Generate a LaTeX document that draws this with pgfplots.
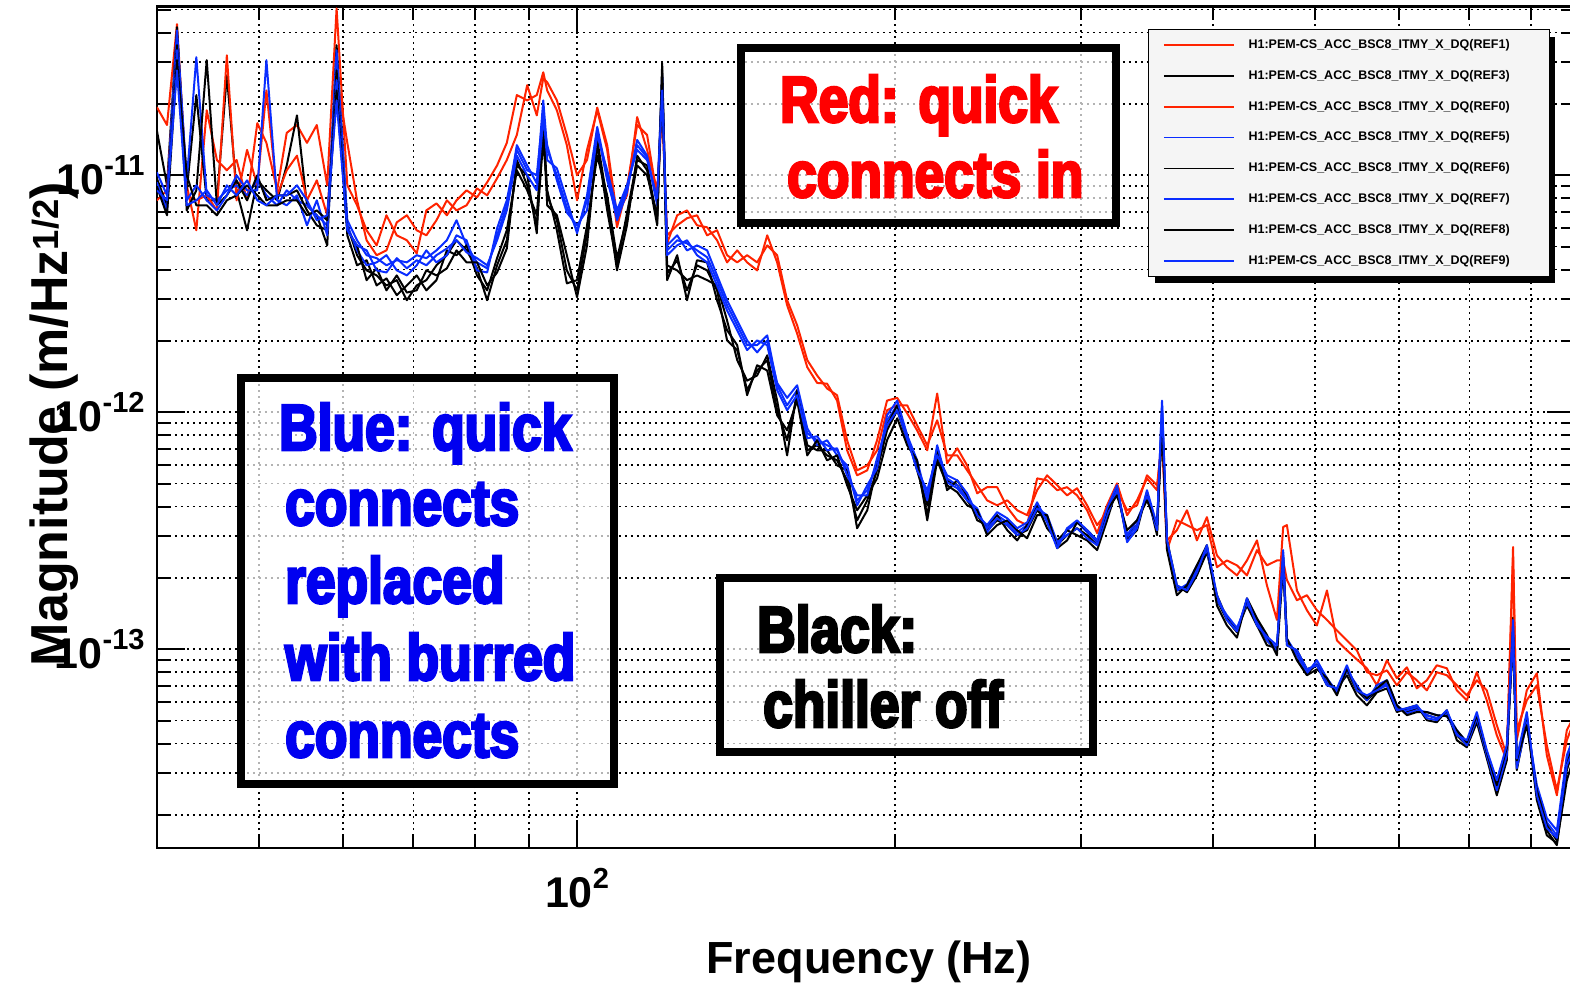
\documentclass[border=0pt]{standalone}
\usepackage{fontspec}
\setmainfont{Liberation Sans}
\newfontfamily\notefont{Liberation Sans Bold}[FakeStretch=0.82, FakeBold=4]
\usepackage{pgfplots}
\usepackage{pgfplotstable}
\pgfplotsset{compat=1.18}

\definecolor{trred}{RGB}{255,35,0}
\definecolor{trblue}{RGB}{10,45,255}
\definecolor{notered}{RGB}{255,0,0}
\definecolor{noteblue}{RGB}{0,0,240}

% power-of-ten tick label
\newcommand\decade[1]{\fontsize{43}{43}\selectfont\bfseries 10\raisebox{19pt}{\fontsize{29}{29}\selectfont #1}}
% legend entry, padded to the width of the legend box
\newcommand\refentry[1]{\makebox[286pt][l]{H1:PEM-CS\_ACC\_BSC8\_ITMY\_X\_DQ(#1)}}

% ASD of H1:PEM-CS_ACC_BSC8_ITMY_X_DQ, in units of 1e-13 m/Hz^(1/2)
\pgfplotstableread{
f r1 r0 k3 k6 k8 b5 b7 b9
40.0 194 78.4 155 97.1 89.8 103 93.4 86.4
40.9 163 86.4 90.7 74.7 67.8 82.3 71.1 78.4
41.8 434 371 422 354 306 409 337 277
42.7 90.7 82.3 86.4 71.1 100 95.2 78.4 74.7
43.6 58.6 78.4 218 86.4 74.7 315 90.7 78.4
44.6 188 82.3 78.4 306 74.7 82.3 78.4 86.4
45.6 116 71.1 78.4 74.7 67.8 78.4 71.1 74.7
46.6 105 321 264 82.3 78.4 86.4 82.3 90.7
47.6 116 78.4 86.4 95.2 82.3 90.7 100 82.3
48.7 78.4 128 58.6 78.4 90.7 82.3 86.4 95.2
49.8 166 90.7 95.2 100 82.3 95.2 86.4 78.4
50.8 137 228 86.4 78.4 74.7 82.3 306 74.7
52.0 86.4 82.3 78.4 82.3 74.7 74.7 78.4 82.3
53.1 151 105 110 82.3 78.4 86.4 74.7 82.3
54.3 163 121 179 86.4 78.4 78.4 82.3 90.7
55.5 137 78.4 74.7 71.1 67.8 74.7 61.5 78.4
56.7 163 95.2 67.8 61.5 71.1 67.8 78.4 64.6
58.0 90.7 67.8 50.6 58.6 64.6 61.5 55.8 67.8
59.2 506 264 354 277 228 337 252 207
60.6 90.7 137 61.5 55.8 58.6 64.6 61.5 58.6
61.9 74.7 78.4 46.0 41.7 50.6 53.2 48.2 50.6
63.2 58.6 53.2 39.7 43.8 36.1 46.0 41.7 48.2
64.6 50.6 46.0 37.8 34.3 40.5 44.7 42.9 39.7
66.0 67.8 48.2 34.3 36.7 32.7 41.7 46.0 38.9
67.5 55.8 63.3 36.1 31.2 37.8 43.8 39.7 44.7
69.0 53.2 67.8 29.7 34.3 32.0 42.9 37.8 40.5
70.5 46.8 58.6 34.3 37.8 32.7 46.0 41.7 43.8
72.0 71.1 55.8 36.1 32.7 39.7 44.7 48.2 41.7
73.6 76.1 64.6 41.7 36.1 37.8 48.2 42.9 46.0
75.3 67.8 78.4 46.0 48.2 40.5 53.2 46.0 49.1
76.9 78.4 71.1 53.2 46.0 48.2 64.6 55.8 53.2
78.6 86.4 74.7 48.2 50.6 42.9 50.6 53.2 47.3
80.4 80.7 88.0 40.5 37.8 42.9 42.9 39.7 44.7
82.2 93.4 82.3 29.7 32.7 34.3 40.5 38.9 41.7
84.0 110 97.1 41.7 44.7 38.9 55.8 59.7 53.2
85.8 137 116 53.2 58.6 49.1 74.7 78.4 71.1
87.7 218 148 110 105 116 134 128 121
89.7 207 240 100 86.4 90.7 110 105 100
91.6 218 179 56.9 67.8 61.5 92.5 100 86.4
92.9 272 257 183 163 141 207 188 171
93.7 228 247 82.3 74.7 86.4 128 116 134
95.7 188 207 64.6 67.8 58.6 100 107 95.2
97.8 134 148 39.7 46.0 35.0 73.3 78.4 69.7
100.0 78.4 100 32.7 30.6 36.1 58.6 56.9 61.5
102.2 128 116 56.9 50.6 61.5 78.4 82.3 71.1
104.5 188 193 134 141 121 155 160 148
106.8 128 134 71.1 78.4 82.3 95.2 100 105
109.1 60.3 67.8 41.7 39.7 44.7 67.8 64.6 71.1
111.5 89.0 82.3 69.1 61.5 65.9 89.0 84.7 90.7
114.0 163 176 116 121 110 134 141 128
116.5 148 128 110 105 100 119 121 116
119.1 80.7 86.4 64.6 61.5 67.8 78.4 74.7 79.9
120.4 193 207 297 277 252 264 240 228
121.7 51.6 55.8 38.5 41.7 36.1 48.2 50.6 46.0
124.4 67.8 61.5 43.8 39.7 46.0 53.2 55.8 50.6
127.1 71.1 65.9 32.7 36.1 29.7 51.6 48.2 53.2
129.9 61.5 67.8 41.7 37.8 43.8 48.2 50.6 46.0
132.8 60.3 55.8 39.7 36.1 42.9 45.1 48.2 42.9
135.7 53.2 58.6 32.7 34.3 29.7 36.1 37.8 34.3
138.7 42.9 46.0 20.1 24.4 22.2 28.3 29.7 26.9
141.8 48.2 42.9 18.3 16.6 19.2 23.3 24.4 22.2
144.9 42.9 46.0 12.4 13.6 11.8 19.2 20.1 18.3
148.1 39.7 42.9 15.0 14.3 15.8 19.2 17.9 20.1
151.4 55.8 50.6 16.6 17.4 15.0 21.1 20.1 19.2
154.7 42.9 46.0 10.2 11.2 9.71 13.0 13.3 12.4
158.1 28.3 29.7 7.62 6.58 8.39 10.7 11.5 10.2
161.6 21.5 23.3 11.8 12.4 11.2 12.4 13.0 11.8
165.2 15.5 16.6 6.91 7.26 6.58 8.15 8.56 7.77
168.8 13.3 14.3 7.26 6.91 7.62 7.62 7.26 7.92
172.5 13.2 12.6 6.58 6.91 6.27 7.26 7.62 6.91
176.3 11.2 11.8 6.27 5.97 6.58 6.91 6.58 7.05
180.2 6.91 7.62 5.16 5.69 4.92 5.69 5.97 5.42
184.2 5.42 5.69 3.50 3.24 3.86 4.25 4.05 4.46
188.3 5.69 5.97 4.25 3.86 4.46 4.69 4.92 4.46
192.4 7.62 6.91 5.69 5.97 5.26 6.15 5.80 6.40
196.6 11.2 10.2 8.39 8.81 7.62 9.25 9.71 8.81
201.0 11.5 10.7 10.2 10.7 9.43 10.7 11.2 10.2
205.4 9.90 10.7 7.62 8.00 7.26 7.62 8.00 7.77
209.9 8.39 8.81 5.97 5.69 6.27 5.97 6.27 5.69
214.6 6.91 7.26 3.68 4.05 3.50 4.46 4.25 4.69
219.3 12.0 9.25 6.58 7.05 6.27 6.91 7.26 6.58
224.1 6.09 6.58 5.16 4.69 4.92 5.26 5.06 5.42
229.1 7.05 6.58 4.92 5.16 4.60 4.92 4.78 5.16
234.1 5.97 5.69 4.25 4.46 4.05 4.37 4.25 4.55
239.3 4.55 4.92 3.68 3.50 3.86 3.79 3.93 3.68
244.5 4.83 4.25 3.18 3.34 3.03 3.24 3.12 3.34
249.9 4.83 4.05 3.50 3.68 3.34 3.68 3.57 3.79
255.5 3.97 4.25 3.34 3.18 3.50 3.43 3.34 3.57
261.1 3.50 3.86 3.03 2.88 3.18 3.12 3.03 3.24
266.8 3.34 3.68 3.18 3.34 2.94 3.34 3.24 3.43
272.7 5.26 4.69 3.86 4.05 3.68 4.05 3.93 4.17
278.7 5.16 5.42 3.50 3.24 3.68 3.57 3.68 3.43
284.9 4.69 4.92 2.75 2.88 2.67 2.75 2.83 2.67
291.1 4.83 4.46 3.03 3.18 2.88 3.18 3.03 3.24
297.5 4.46 4.78 3.24 3.03 3.43 3.43 3.24 3.50
304.1 3.86 4.05 3.03 2.88 3.18 3.12 2.94 3.18
310.8 3.09 3.34 2.75 2.62 2.88 2.83 2.75 2.88
317.6 4.05 3.79 3.68 3.50 3.86 3.79 3.68 3.93
324.6 5.01 4.69 4.69 4.78 4.46 4.83 4.69 4.92
331.8 3.68 3.86 3.03 2.88 3.18 2.94 3.03 2.83
339.1 4.25 4.05 3.34 3.18 3.50 3.34 3.50 3.24
346.5 5.26 5.42 4.46 4.60 4.25 4.55 4.42 4.69
354.2 4.69 4.92 3.18 3.03 3.34 3.24 3.18 3.34
358.1 8.15 7.62 9.90 9.25 8.81 11.2 10.2 10.7
362.0 2.88 2.62 2.75 2.88 2.62 2.83 2.75 2.88
369.9 3.18 3.50 1.77 1.86 1.69 1.79 1.77 1.86
378.1 3.86 3.34 1.79 1.74 1.86 1.83 1.88 1.77
386.4 2.88 3.18 2.15 2.05 2.26 2.19 2.26 2.11
394.9 3.61 3.34 2.67 2.57 2.75 2.70 2.62 2.75
403.6 2.49 2.22 1.61 1.69 1.53 1.64 1.61 1.69
412.5 2.22 2.37 1.33 1.35 1.26 1.35 1.39 1.33
421.6 2.05 2.26 1.18 1.20 1.12 1.20 1.23 1.19
430.9 2.37 2.05 1.61 1.53 1.64 1.61 1.56 1.64
440.4 2.88 2.62 1.30 1.26 1.35 1.30 1.33 1.26
450.1 1.86 2.26 1.09 1.04 1.15 1.11 1.09 1.13
460.0 1.33 2.37 0.990 1.01 0.943 1.01 0.990 1.04
466.3 3.28 2.37 2.49 2.37 2.26 2.62 2.49 2.37
470.1 3.34 1.96 1.09 1.04 1.11 1.09 1.11 1.04
480.5 1.77 1.61 0.943 0.990 0.898 0.960 0.943 0.990
491.1 1.46 1.69 0.790 0.823 0.777 0.815 0.792 0.823
501.9 1.26 1.46 0.864 0.856 0.823 0.864 0.898 0.856
513.0 1.77 1.33 0.740 0.705 0.755 0.726 0.755 0.705
524.3 1.09 1.20 0.671 0.684 0.639 0.671 0.658 0.684
535.8 0.990 1.09 0.815 0.777 0.831 0.831 0.815 0.856
547.6 0.906 0.990 0.671 0.639 0.684 0.684 0.705 0.671
559.7 0.831 0.800 0.609 0.580 0.621 0.621 0.609 0.639
572.0 0.705 0.777 0.671 0.658 0.684 0.684 0.705 0.671
584.7 0.898 0.815 0.718 0.684 0.740 0.718 0.740 0.705
597.5 0.755 0.705 0.564 0.543 0.580 0.564 0.580 0.553
610.7 0.839 0.800 0.543 0.564 0.527 0.553 0.537 0.564
624.1 0.684 0.740 0.564 0.580 0.543 0.569 0.553 0.580
637.9 0.740 0.671 0.527 0.502 0.543 0.527 0.543 0.512
651.9 0.856 0.800 0.512 0.492 0.527 0.512 0.527 0.502
666.3 0.831 0.777 0.537 0.553 0.522 0.537 0.522 0.553
681.0 0.671 0.705 0.434 0.413 0.455 0.455 0.443 0.434
696.0 0.609 0.639 0.393 0.386 0.405 0.405 0.393 0.413
711.3 0.800 0.740 0.512 0.492 0.527 0.527 0.512 0.543
727.0 0.609 0.671 0.357 0.347 0.368 0.368 0.357 0.375
743.0 0.434 0.478 0.254 0.242 0.267 0.267 0.254 0.280
759.4 0.340 0.357 0.368 0.340 0.383 0.375 0.357 0.393
769.8 2.70 2.37 1.36 1.20 1.09 1.33 1.26 1.15
776.1 0.413 0.455 0.324 0.309 0.340 0.333 0.315 0.346
793.2 0.671 0.609 0.527 0.502 0.478 0.512 0.492 0.543
810.7 0.792 0.705 0.242 0.231 0.254 0.254 0.267 0.242
828.6 0.357 0.393 0.172 0.164 0.181 0.186 0.194 0.176
846.9 0.242 0.254 0.149 0.152 0.156 0.164 0.172 0.160
865.5 0.455 0.413 0.309 0.280 0.324 0.340 0.357 0.324
880.0 0.527 0.502 0.393 0.357 0.413 0.413 0.434 0.383
}\spectra

\begin{document}
\begin{tikzpicture}
\begin{axis}[
  scale only axis,
  width=1417.6pt, height=841.6pt,
  xmode=log, ymode=log,
  xmin=40, xmax=880, ymin=0.145, ymax=516,
  axis line style={line width=2.5pt},
  xtick={100}, xticklabels={\decade{2}},
  ytick={1,10,100}, yticklabels={\decade{-13},\decade{-12},\decade{-11}},
  minor xtick={50,60,70,80,90,200,300,400,500,600,700,800},
  minor ytick={0.2,0.3,0.4,0.5,0.6,0.7,0.8,0.9,2,3,4,5,6,7,8,9,20,30,40,50,60,70,80,90,200,300,400,500},
  xtick pos=both, ytick pos=both,
  tick align=inside,
  major tick length=28pt, minor tick length=14pt,
  tick style={black, line width=2pt},
  grid=both,
  major grid style={black, line width=1.6pt, dash pattern=on 1.8pt off 4.2pt},
  minor grid style={black, line width=1.6pt, dash pattern=on 1.8pt off 4.2pt},
  xticklabel style={anchor=north, inner sep=0pt, yshift=-20pt},
  yticklabel style={anchor=east, inner sep=0pt, xshift=-12pt},
  every axis plot/.append style={line width=2pt, line join=round, mark=none},
  legend cell align=left,
  legend image code/.code={\draw[#1, line width=1.5pt] (0pt,0pt) -- (70pt,0pt);},
  legend style={
    at={(rel axis cs:0.6992,0.9720)}, anchor=north west,
    draw=black, line width=1pt, fill=black!4,
    inner xsep=15pt, inner ysep=9pt, outer sep=0pt,
    row sep=18.3pt, column sep=14pt,
    font=\fontsize{12.5}{15}\selectfont\bfseries,
    nodes={inner sep=0pt, text height=9.5pt, text depth=3pt},
  },
]
\addplot[trred]  table[x=f, y=r1] {\spectra};
\addlegendentry{\refentry{REF1}}
\addplot[black]  table[x=f, y=k3] {\spectra};
\addlegendentry{\refentry{REF3}}
\addplot[trred]  table[x=f, y=r0] {\spectra};
\addlegendentry{\refentry{REF0}}
\addplot[trblue] table[x=f, y=b5] {\spectra};
\addlegendentry{\refentry{REF5}}
\addplot[black]  table[x=f, y=k6] {\spectra};
\addlegendentry{\refentry{REF6}}
\addplot[trblue] table[x=f, y=b7] {\spectra};
\addlegendentry{\refentry{REF7}}
\addplot[black]  table[x=f, y=k8] {\spectra};
\addlegendentry{\refentry{REF8}}
\addplot[trblue] table[x=f, y=b9] {\spectra};
\addlegendentry{\refentry{REF9}}
% shadow behind the legend box
\fill[black] (rel axis cs:0.70415,0.67134) rectangle (rel axis cs:0.98631,0.96364);
\end{axis}

% axis titles
\node[rotate=90, anchor=base, inner sep=0pt, font=\fontsize{52}{52}\selectfont\bfseries]
  at (-88.8pt,424pt) {Magnitude (m/Hz\textsuperscript{1/2})};
\node[anchor=base, inner sep=0pt, font=\fontsize{45}{45}\selectfont\bfseries]
  at (712.2pt,-125pt) {Frequency (Hz)};

% annotation boxes
\begin{scope}[every node/.style={inner sep=0pt, anchor=base west,
    font=\fontsize{65}{65}\notefont}]
\draw[line width=8.5pt, fill=white, fill opacity=0.7] (584.2pt,800pt) rectangle (959.2pt,625pt);
\node[text=notered] at (623.2pt,726pt) {Red: quick};
\node[text=notered] at (630.2pt,651pt) {connects in};

\draw[line width=8.5pt, fill=white, fill opacity=0.7] (84.2pt,470pt) rectangle (457.2pt,64pt);
\node[text=noteblue] at (122.2pt,398pt) {Blue: quick};
\node[text=noteblue] at (128.2pt,323pt) {connects};
\node[text=noteblue] at (128.2pt,245pt) {replaced};
\node[text=noteblue] at (128.2pt,168pt) {with burred};
\node[text=noteblue] at (128.2pt,91pt) {connects};

\draw[line width=8.5pt, fill=white, fill opacity=0.7] (563.2pt,270pt) rectangle (936.2pt,96pt);
\node[text=black] at (600.2pt,196pt) {Black:};
\node[text=black] at (606.2pt,121pt) {chiller off};
\end{scope}

\pgfresetboundingbox
\useasboundingbox (-156.8pt,-134pt) rectangle (1413.2pt,848pt);
\end{tikzpicture}
\end{document}
